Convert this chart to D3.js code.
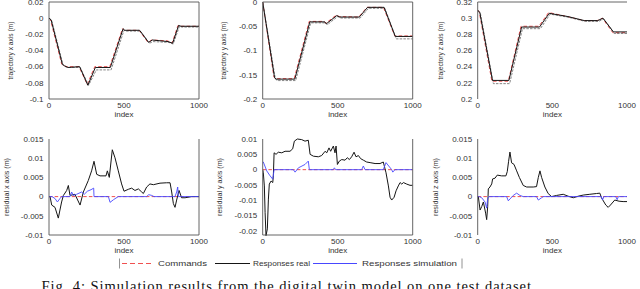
<!DOCTYPE html>
<html>
<head>
    <title>Digital twin simulation results</title>
    <script src="https://d3js.org/d3.v7.min.js"></script>
    <style>
        body { margin: 0; background: #fff; overflow: hidden; }
        text { font-family: "Liberation Sans", Arial, sans-serif; fill: #333; }
        .caption { font-family: "Liberation Serif", "Times New Roman", serif; fill: #111; }
    </style>
</head>
<body>
<div id="viz"></div>
<script>
// ---------- data ----------
const xTicks = [0, 500, 1000];

// trajectory x axis
const cmdXIdx  = [0, 10, 85, 100, 120, 200, 255, 305, 405, 490, 500, 600, 660, 685, 790, 820, 860, 875, 1000];
const cmdX     = [0, -0.002, -0.057, -0.059, -0.06, -0.06, -0.082, -0.06, -0.06, -0.013, -0.015, -0.015, -0.03, -0.027, -0.028, -0.031, -0.009, -0.01, -0.01];
const realXIdx = [0, 14, 89, 104, 125, 204, 259, 309, 409, 494, 505, 604, 664, 689, 794, 824, 864, 880, 1000];
const realX    = [0, -0.002, -0.057, -0.059, -0.061, -0.06, -0.083, -0.061, -0.061, -0.013, -0.015, -0.015, -0.03, -0.027, -0.029, -0.031, -0.009, -0.01, -0.01];
const simXIdx  = [0, 18, 94, 110, 130, 208, 264, 316, 414, 500, 512, 610, 670, 694, 800, 828, 870, 885, 1000];
const simX     = [0, -0.003, -0.058, -0.06, -0.061, -0.061, -0.083, -0.064, -0.064, -0.015, -0.016, -0.016, -0.031, -0.029, -0.03, -0.032, -0.01, -0.011, -0.011];
const trajXTicks = [-0.1, -0.08, -0.06, -0.04, -0.02, 0, 0.02];

// trajectory y axis
const cmdYIdx  = [0, 75, 85, 210, 310, 410, 420, 490, 510, 640, 695, 805, 880, 1000];
const cmdY     = [0, -0.155, -0.158, -0.158, -0.04, -0.04, -0.044, -0.027, -0.03, -0.031, -0.011, -0.011, -0.07, -0.07];
const realYIdx = [0, 79, 89, 214, 314, 414, 424, 494, 514, 644, 699, 809, 884, 1000];
const realY    = [0, -0.156, -0.159, -0.159, -0.041, -0.041, -0.045, -0.028, -0.031, -0.031, -0.011, -0.011, -0.071, -0.071];
const simYIdx  = [0, 84, 95, 220, 320, 420, 430, 500, 520, 650, 705, 815, 890, 1000];
const simY     = [0, -0.158, -0.162, -0.162, -0.043, -0.043, -0.047, -0.03, -0.033, -0.033, -0.013, -0.013, -0.076, -0.076];
const trajYTicks = [-0.2, -0.15, -0.1, -0.05, 0];

// trajectory z axis
const cmdZIdx  = [0, 10, 95, 205, 290, 410, 475, 600, 710, 800, 835, 905, 1000];
const cmdZ     = [0.31, 0.308, 0.222, 0.222, 0.29, 0.29, 0.307, 0.302, 0.297, 0.297, 0.3, 0.282, 0.282];
const realZIdx = [0, 14, 99, 209, 294, 414, 479, 604, 714, 804, 839, 909, 1000];
const realZ    = [0.31, 0.307, 0.223, 0.223, 0.289, 0.289, 0.306, 0.302, 0.297, 0.297, 0.3, 0.283, 0.283];
const simZIdx  = [0, 18, 105, 214, 300, 420, 485, 610, 720, 810, 845, 915, 1000];
const simZ     = [0.309, 0.306, 0.219, 0.219, 0.287, 0.287, 0.305, 0.301, 0.296, 0.296, 0.299, 0.281, 0.281];
const trajZTicks = [0.2, 0.22, 0.24, 0.26, 0.28, 0.3, 0.32];

// residuals: commands line sits on zero
const resCmdIdx = [0, 1000];
const resCmd    = [0, 0];

// residual x axis
const resRealXIdx = [0, 7, 18, 40, 62, 73, 84, 96, 118, 129, 140, 173, 207, 229, 262, 284, 300, 318, 340, 380, 389, 402, 422, 440, 462, 484, 500, 529, 551, 573, 596, 618, 629, 651, 673, 696, 740, 784, 807, 818, 829, 840, 851, 867, 884, 907, 951, 1000];
const resRealX    = [0, 0, -0.0022, -0.0028, -0.0056, -0.0035, -0.0014, 0.0003, 0.0016, 0.0029, 0.0003, 0.0006, -0.0022, 0.0012, 0.0042, 0.0067, 0.0092, 0.0058, 0.0054, 0.0054, 0.0067, 0.005, 0.0122, 0.0101, 0.0067, 0.0033, 0.0014, 0.0019, 0.0022, 0.0016, 0.002, 0.0012, 0.0008, 0.0025, 0.0033, 0.0031, 0.0035, 0.0036, 0.0036, 0.0012, -0.0018, -0.0028, -0.0009, 0.0016, -0.0003, -0.0003, 0, 0];
const resSimXIdx  = [0, 20, 40, 56, 73, 84, 140, 151, 162, 184, 218, 235, 256, 280, 298, 300, 396, 407, 430, 462, 650, 665, 685, 700, 840, 851, 858, 862, 1000];
const resSimX     = [0, 0, -0.0005, -0.0014, -0.0005, 0, 0, 0.0012, 0.0003, 0.0006, 0.0012, 0.0006, 0.0014, 0.0018, 0.0022, 0, 0, -0.0015, -0.0008, 0, 0, 0.0005, 0.0003, 0, 0, 0.0012, 0.0025, 0, 0];
const resXTicks   = [-0.01, -0.005, 0, 0.005, 0.01, 0.015];

// residual y axis
const resRealYIdx = [0, 4, 11, 16, 22, 31, 38, 44, 56, 67, 71, 76, 89, 104, 127, 149, 182, 200, 211, 231, 260, 282, 304, 316, 338, 371, 393, 416, 427, 442, 453, 471, 482, 489, 498, 511, 527, 549, 564, 578, 593, 609, 622, 638, 653, 671, 693, 716, 749, 782, 804, 822, 838, 849, 860, 876, 889, 904, 916, 927, 938, 960, 982, 1000];
const resRealY    = [0, -0.001, -0.0053, -0.014, -0.0215, -0.0193, -0.0096, -0.0047, -0.0037, -0.0042, -0.002, 0.0055, 0.005, 0.0057, 0.0055, 0.006, 0.006, 0.0068, 0.0093, 0.01, 0.0098, 0.0093, 0.0096, 0.005, 0.0044, 0.0042, 0.0046, 0.006, 0.0055, 0.0071, 0.006, 0.0077, 0.0055, 0.0077, 0.0017, 0.0028, 0.0033, 0.0031, 0.0039, 0.0033, 0.0042, 0.0057, 0.0042, 0.0046, 0.0036, 0.0031, 0.0025, 0.0023, 0.002, 0.002, 0.0025, -0.001, -0.0053, -0.009, -0.0099, -0.009, -0.0069, -0.0053, -0.0042, -0.0047, -0.0042, -0.0047, -0.0051, -0.0051];
const resSimYIdx  = [0, 4, 27, 49, 67, 76, 204, 216, 238, 282, 304, 311, 470, 478, 486, 660, 671, 682, 804, 822, 860, 867, 882, 1000];
const resSimY     = [0.0025, 0.0025, -0.0004, -0.002, -0.0031, 0, 0, -0.0008, 0.0006, 0.0017, 0.0028, 0, 0, 0.0006, 0, 0, 0.0012, 0, 0, 0.0023, 0, -0.0008, 0, 0];
const resYTicks   = [-0.02, -0.015, -0.01, -0.005, 0, 0.005, 0.01];

// residual z axis
const resRealZIdx = [0, 4, 16, 27, 38, 53, 60, 67, 71, 82, 94, 100, 116, 131, 160, 189, 198, 207, 216, 227, 243, 261, 279, 305, 328, 372, 394, 406, 417, 428, 450, 472, 495, 528, 573, 606, 640, 673, 707, 751, 796, 818, 829, 858, 874, 889, 918, 947, 974, 1000];
const resRealZ    = [0, 0, -0.0035, -0.0026, -0.0014, -0.0043, -0.006, -0.0026, 0.002, 0.0025, 0.0033, 0.0046, 0.0048, 0.0056, 0.0054, 0.0054, 0.0065, 0.0092, 0.0116, 0.0088, 0.0084, 0.0067, 0.005, 0.0029, 0.0025, 0.0025, 0.0026, 0.005, 0.0067, 0.005, 0.0025, 0.0008, 0, 0.0003, 0.0006, 0.0001, -0.0003, 0.0001, 0.0004, 0.0006, 0.0008, 0.0009, -0.0003, -0.0022, -0.0028, -0.0022, -0.0009, -0.0012, -0.0013, -0.0013];
const resSimZIdx  = [0, 10, 27, 49, 60, 67, 76, 194, 205, 238, 261, 283, 305, 394, 406, 428, 440, 828, 836, 845, 925, 934, 942, 1000];
const resSimZ     = [0, 0, -0.0003, -0.0014, -0.003, -0.0005, 0, 0, -0.0011, 0.0003, 0.0009, 0.0003, 0, 0, -0.0009, -0.0003, 0, 0, -0.0009, 0, 0, -0.0008, 0, 0];
const resZTicks   = [-0.01, -0.005, 0, 0.005, 0.01, 0.015];

// legend entries
const legendLabels = ['Commands', 'Responses real', 'Responses simulation'];

// ---------- drawing ----------
const W = 640, H = 289;
const svg = d3.select('#viz').append('svg').attr('width', W).attr('height', H);

const cols = [[49, 199], [262.7, 412.7], [477.7, 627]];
const rows = [[2, 99], [139, 235]];

const styles = {
    cmd:  { stroke: '#f05050', width: 1, dash: '3.5,2.2' },
    real: { stroke: '#151515', width: 1, dash: null },
    simTop: { stroke: '#777', width: 0.9, dash: '2.5,1.2' },
    sim:  { stroke: '#4848ff', width: 0.9, dash: null }
};

const toPts = (idx, vals) => idx.map((d, i) => [d, vals[i]]);
const fmt = v => String(+v.toFixed(4));

let clipId = 0;
function panel(opt) {
    const [x0, x1] = cols[opt.col];
    const [y0, y1] = rows[opt.row];
    const x = d3.scaleLinear().domain([0, 1000]).range([x0, x1]);
    const y = d3.scaleLinear().domain(opt.domain).range([y1, y0]);
    const g = svg.append('g');

    const cid = 'clip' + (clipId++);
    svg.append('clipPath').attr('id', cid).append('rect')
        .attr('x', x0).attr('y', y0 - 1).attr('width', x1 - x0).attr('height', y1 - y0 + 2);

    const line = d3.line().x(d => x(d[0])).y(d => y(d[1]));
    const lines = g.append('g').attr('clip-path', `url(#${cid})`);
    opt.series.forEach(s => {
        const st = styles[s.style];
        lines.append('path')
            .attr('d', line(toPts(s.idx, s.vals)))
            .attr('fill', 'none')
            .attr('stroke', st.stroke)
            .attr('stroke-width', st.width)
            .attr('stroke-dasharray', st.dash)
            .attr('stroke-linejoin', 'round');
    });

    // frame (only the sides that show in the figure)
    const sides = {
        top: [x0, y0, x1, y0], bottom: [x0, y1, x1, y1],
        left: [x0, y0, x0, y1], right: [x1, y0, x1, y1]
    };
    opt.frame.forEach(k => {
        const s = sides[k];
        g.append('line').attr('x1', s[0]).attr('y1', s[1]).attr('x2', s[2]).attr('y2', s[3])
            .attr('stroke', '#555').attr('stroke-width', 0.9);
    });

    // y tick labels
    g.selectAll('.yt').data(opt.ticks).enter().append('text')
        .attr('x', x0 - 5.5).attr('y', d => y(d))
        .attr('dy', '0.35em').attr('text-anchor', 'end')
        .attr('font-size', 8).text(fmt);

    // x tick labels
    g.selectAll('.xt').data(xTicks).enter().append('text')
        .attr('x', d => x(d)).attr('y', y1 + 6.5)
        .attr('dy', '0.35em').attr('text-anchor', 'middle')
        .attr('font-size', 8).text(d => d);

    g.append('text')
        .attr('x', (x0 + x1) / 2).attr('y', y1 + 15)
        .attr('dy', '0.35em').attr('text-anchor', 'middle')
        .attr('font-size', 8).text('index');

    const cy = (y0 + y1) / 2;
    g.append('text')
        .attr('transform', `translate(${opt.labelX},${cy}) rotate(-90)`)
        .attr('dy', '0.35em').attr('text-anchor', 'middle')
        .attr('font-size', 8)
        .attr('textLength', 58).attr('lengthAdjust', 'spacingAndGlyphs')
        .text(opt.label);
}

panel({ row: 0, col: 0, domain: [-0.1, 0.02], ticks: trajXTicks, label: 'trajectory x axis (m)', labelX: 10,
    frame: ['top', 'bottom', 'left', 'right'],
    series: [{ idx: cmdXIdx, vals: cmdX, style: 'cmd' }, { idx: simXIdx, vals: simX, style: 'simTop' }, { idx: realXIdx, vals: realX, style: 'real' }] });
panel({ row: 0, col: 1, domain: [-0.2, 0], ticks: trajYTicks, label: 'trajectory y axis (m)', labelX: 223.5,
    frame: ['top', 'bottom', 'left', 'right'],
    series: [{ idx: cmdYIdx, vals: cmdY, style: 'cmd' }, { idx: simYIdx, vals: simY, style: 'simTop' }, { idx: realYIdx, vals: realY, style: 'real' }] });
panel({ row: 0, col: 2, domain: [0.2, 0.32], ticks: trajZTicks, label: 'trajectory z axis (m)', labelX: 440.5,
    frame: ['top', 'left'],
    series: [{ idx: cmdZIdx, vals: cmdZ, style: 'cmd' }, { idx: simZIdx, vals: simZ, style: 'simTop' }, { idx: realZIdx, vals: realZ, style: 'real' }] });

panel({ row: 1, col: 0, domain: [-0.01, 0.015], ticks: resXTicks, label: 'residual x axis (m)', labelX: 6,
    frame: ['bottom', 'left', 'right'],
    series: [{ idx: resCmdIdx, vals: resCmd, style: 'cmd' }, { idx: resRealXIdx, vals: resRealX, style: 'real' }, { idx: resSimXIdx, vals: resSimX, style: 'sim' }] });
panel({ row: 1, col: 1, domain: [-0.0213, 0.01], ticks: resYTicks, label: 'residual y axis (m)', labelX: 219.5,
    frame: ['left', 'right', 'bottom'],
    series: [{ idx: resCmdIdx, vals: resCmd, style: 'cmd' }, { idx: resRealYIdx, vals: resRealY, style: 'real' }, { idx: resSimYIdx, vals: resSimY, style: 'sim' }] });
panel({ row: 1, col: 2, domain: [-0.01, 0.015], ticks: resZTicks, label: 'residual z axis (m)', labelX: 435,
    frame: ['left'],
    series: [{ idx: resCmdIdx, vals: resCmd, style: 'cmd' }, { idx: resRealZIdx, vals: resRealZ, style: 'real' }, { idx: resSimZIdx, vals: resSimZ, style: 'sim' }] });

// legend
const legY = 263.5;
const leg = svg.append('g');
leg.append('line').attr('x1', 119.5).attr('x2', 119.5).attr('y1', legY - 5).attr('y2', legY + 5).attr('stroke', '#777').attr('stroke-width', 0.8);
leg.append('line').attr('x1', 462).attr('x2', 462).attr('y1', legY - 5).attr('y2', legY + 5).attr('stroke', '#777').attr('stroke-width', 0.8);
const legItems = [
    { style: 'cmd',  lx: [122, 154], tx: 158, tw: 49, dash: '5,3' },
    { style: 'real', lx: [215, 250], tx: 253, tw: 57, dash: null },
    { style: 'sim',  lx: [313, 357], tx: 362, tw: 95, dash: null }
];
legItems.forEach((it, i) => {
    const st = styles[it.style];
    leg.append('line').attr('x1', it.lx[0]).attr('x2', it.lx[1]).attr('y1', legY).attr('y2', legY)
        .attr('stroke', st.stroke).attr('stroke-width', 1.1).attr('stroke-dasharray', it.dash);
    leg.append('text').attr('x', it.tx).attr('y', legY).attr('dy', '0.35em')
        .attr('font-size', 8).attr('textLength', it.tw).attr('lengthAdjust', 'spacingAndGlyphs')
        .text(legendLabels[i]);
});

// caption
svg.append('text').attr('class', 'caption')
    .attr('x', 41.5).attr('y', 290.5)
    .attr('font-size', 14.5)
    .attr('textLength', 494).attr('lengthAdjust', 'spacing')
    .text('Fig. 4: Simulation results from the digital twin model on one test dataset.');
</script>
</body>
</html>
